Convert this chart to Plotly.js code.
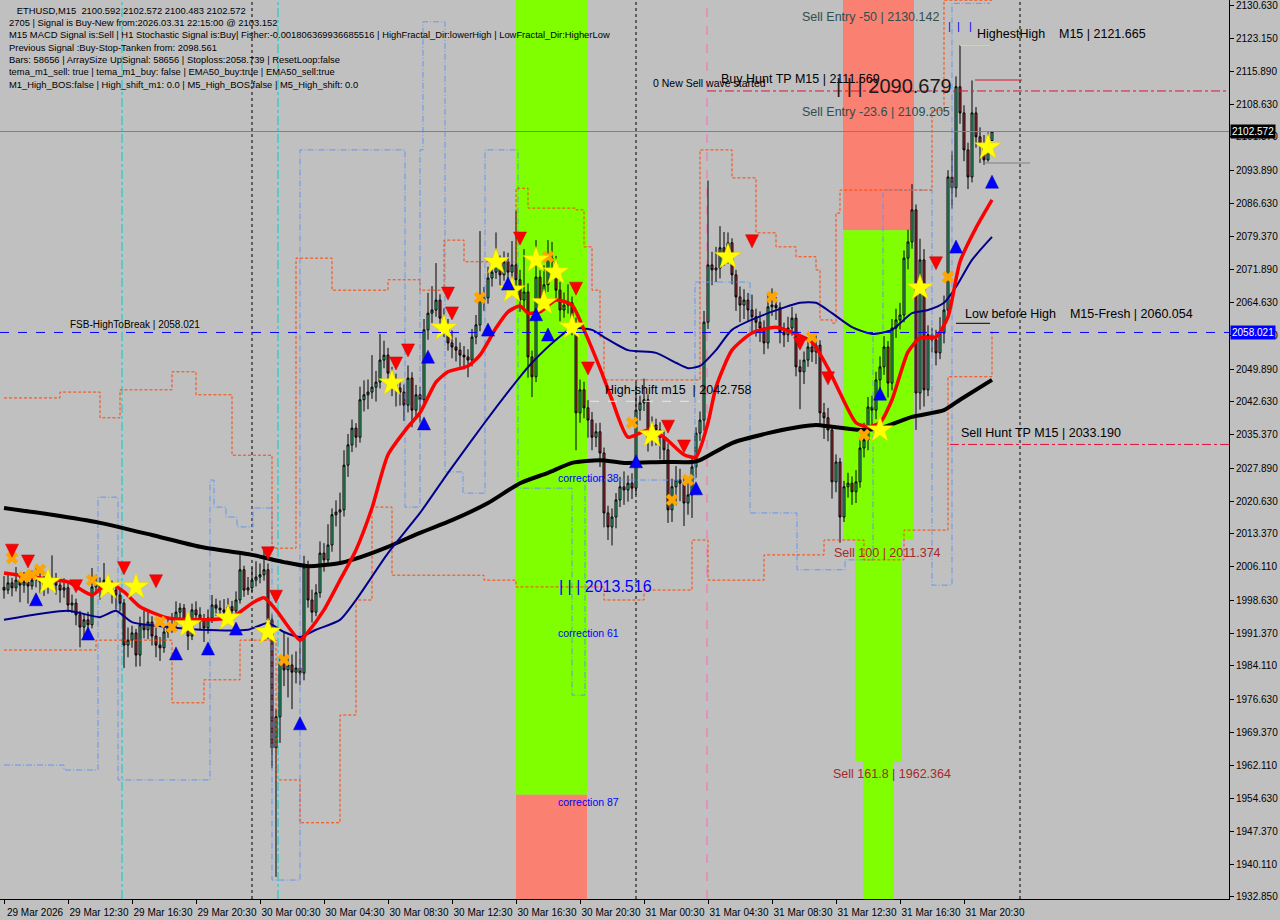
<!DOCTYPE html>
<html><head><meta charset="utf-8">
<script src="https://cdn.plot.ly/plotly-3.0.1.min.js"></script>
<style>html,body{margin:0;padding:0;background:#c0c0c0;}#chart{width:1280px;height:920px;}</style>
</head><body><div id="chart"></div>
<script>
// ---------- DATA ----------
const symbolTitle = "ETHUSD,M15";
const startBar = "2026-03-29 08:30"; // first bar time, M15 bars
const firstOpen = 2001.5;
const closes = [
2000.9,2002.5,2001.4,2003.1,2002.0,2002.7,2001.8,2003.1,2003.6,2002.7,
2002.0,2002.5,2003.6,2002.0,2000.9,2001.4,1997.6,1998.0,1995.4,1992.7,
1994.3,1993.2,2001.6,2002.5,2000.9,2003.1,2002.0,2000.9,1999.8,1998.0,
1988.7,1989.8,1991.4,1986.5,1993.2,1992.1,1993.8,1990.7,1988.7,1988.1,
1991.6,1992.5,1993.2,1996.0,1996.9,1993.2,1990.7,1996.5,1995.4,1994.3,
1992.5,1994.7,1997.6,1996.9,1996.5,1996.0,1997.2,1996.3,1998.7,2005.4,
2000.9,2001.4,2003.1,2003.8,2004.3,2005.4,1994.3,1965.9,1972.8,1984.7,
1983.2,1984.3,1982.7,1983.6,1982.5,2006.0,1998.7,1996.0,2000.3,2009.1,
2007.6,2010.9,2017.6,2018.2,2018.7,2028.6,2033.1,2036.8,2034.8,2043.1,
2044.2,2044.8,2045.9,2047.0,2051.9,2053.0,2049.0,2046.8,2045.7,2044.8,
2041.9,2047.9,2040.8,2044.2,2043.1,2058.6,2062.3,2063.0,2065.2,2061.2,
2059.7,2055.7,2054.8,2054.1,2053.0,2052.6,2051.9,2057.0,2059.7,2065.2,
2065.7,2070.1,2071.4,2073.0,2070.8,2073.7,2071.4,2073.0,2069.7,2065.2,
2067.0,2052.6,2048.2,2070.3,2065.2,2068.6,2074.5,2073.7,2067.4,2063.0,
2064.1,2064.6,2059.7,2040.2,2045.3,2041.3,2038.6,2034.8,2036.0,2031.3,
2018.0,2014.9,2017.1,2020.9,2023.8,2023.1,2024.6,2023.5,2040.8,2042.4,
2043.1,2034.2,2037.5,2036.4,2034.8,2032.0,2018.7,2023.8,2025.3,2024.6,
2020.2,2022.0,2028.2,2035.7,2038.6,2060.3,2073.0,2071.9,2072.3,2076.8,
2075.2,2077.9,2070.8,2065.9,2064.1,2065.2,2063.0,2061.5,2060.3,2059.0,
2055.7,2063.7,2064.1,2063.5,2058.1,2057.5,2059.0,2061.2,2050.4,2049.3,
2051.9,2054.8,2053.7,2055.2,2040.2,2039.1,2036.4,2024.9,2029.3,2017.1,
2023.8,2024.6,2022.7,2024.9,2032.4,2034.2,2041.5,2040.8,2047.5,2050.4,
2054.8,2046.8,2059.0,2060.8,2061.9,2074.5,2078.1,2085.2,2044.6,2074.1,
2045.3,2057.5,2056.4,2053.5,2057.9,2063.0,2092.5,2090.1,2112.5,2106.7,
2098.5,2092.5,2106.7,2101.4,2099.6,2096.3,2100.592,2102.572];
const highs = [
2004.0,2004.8,2003.6,2006.0,2004.5,2004.9,2003.8,2005.2,2006.4,2005.1,
2004.0,2003.9,2008.6,2004.7,2003.3,2003.5,2002.6,1999.9,1999.0,1996.3,
1995.6,1996.1,2005.8,2004.3,2003.7,2006.9,2004.2,2003.0,2002.4,2001.1,
1998.9,1992.6,1993.0,1992.3,1995.0,1996.4,1996.0,1995.1,1992.6,1990.5,
1993.4,1994.5,1995.8,1998.4,1998.0,1997.8,1994.5,1997.9,1998.4,1997.1,
1995.6,1996.6,1999.8,1999.0,1998.6,1998.9,1999.1,1998.5,2000.6,2008.8,
2006.3,2003.8,2005.9,2007.3,2006.8,2010.1,2006.8,1995.5,1974.5,1986.1,
1991.8,1990.4,1986.6,1987.3,1990.6,2008.5,2007.4,2001.0,2002.2,2011.7,
2011.3,2015.5,2019.0,2020.8,2022.5,2031.9,2035.5,2038.7,2037.9,2046.0,
2047.4,2047.6,2053.0,2049.5,2057.7,2056.2,2054.6,2050.4,2048.9,2047.3,
2046.5,2050.7,2049.2,2046.4,2046.0,2061.0,2066.8,2068.3,2073.4,2066.5,
2063.4,2061.0,2058.5,2056.9,2055.8,2055.0,2054.3,2058.8,2061.9,2080.5,
2068.1,2072.6,2074.6,2080.2,2075.1,2076.0,2075.7,2078.3,2085.0,2071.9,
2076.5,2068.9,2054.0,2078.5,2071.8,2072.9,2078.5,2078.1,2075.0,2069.2,
2066.9,2068.7,2066.0,2061.3,2047.6,2047.1,2043.0,2040.4,2037.9,2038.0,
2032.5,2019.6,2019.0,2022.4,2026.0,2027.2,2026.3,2026.8,2046.9,2044.0,
2047.8,2044.3,2039.4,2038.9,2038.1,2036.3,2033.4,2025.6,2028.4,2027.8,
2026.0,2025.4,2030.1,2037.0,2040.5,2062.8,2091.7,2075.9,2077.0,2081.6,
2080.3,2080.2,2078.9,2071.9,2068.2,2067.6,2066.8,2066.4,2063.3,2062.7,
2060.7,2066.5,2067.8,2065.9,2064.7,2060.2,2061.5,2063.7,2062.2,2052.0,
2053.8,2056.6,2057.3,2057.5,2056.3,2042.4,2041.3,2037.5,2031.0,2030.2,
2025.1,2026.9,2026.1,2027.5,2034.4,2038.0,2043.7,2044.0,2049.3,2052.7,
2057.2,2056.1,2061.0,2063.3,2064.6,2076.2,2080.8,2090.9,2086.4,2078.8,
2076.5,2059.6,2059.1,2058.6,2061.4,2066.2,2094.0,2098.2,2114.8,2121.7,
2108.4,2100.1,2113.9,2108.0,2103.5,2101.8,2102.4,2102.572];
const lows = [
1999.0,2000.0,1999.5,2000.6,1998.2,2000.3,1997.9,2001.0,2001.5,2000.2,
1999.6,2000.1,2001.2,1999.9,1998.1,1999.2,1996.0,1995.8,1993.1,1988.2,
1990.5,1991.0,1992.4,2000.0,1998.8,2000.1,2000.3,1997.9,1996.6,1996.2,
1983.6,1986.0,1988.1,1983.9,1984.0,1990.2,1990.0,1988.6,1986.0,1985.2,
1987.0,1990.3,1991.4,1992.2,1994.0,1991.5,1987.6,1989.8,1993.5,1992.0,
1989.4,1991.2,1993.6,1995.2,1994.4,1993.8,1994.9,1994.6,1995.5,1997.9,
1999.4,1999.8,2000.5,2001.7,2002.4,2003.0,1990.0,1961.4,1937.3,1967.0,
1979.6,1977.1,1974.5,1980.2,1979.8,1980.9,1997.0,1993.7,1995.1,1999.2,
2005.0,2006.2,2009.4,2015.0,2007.0,2017.2,2026.0,2031.5,2032.5,2033.6,
2040.5,2041.0,2043.3,2042.7,2045.6,2050.1,2046.1,2043.9,2041.6,2041.8,
2038.4,2040.3,2037.0,2039.1,2038.0,2041.7,2056.4,2060.1,2061.5,2058.5,
2057.0,2054.0,2052.3,2051.6,2050.4,2049.8,2048.1,2050.5,2055.4,2058.3,
2062.8,2064.4,2068.2,2069.9,2068.4,2069.5,2069.6,2069.8,2067.5,2062.6,
2063.1,2048.0,2043.7,2047.0,2063.0,2063.9,2067.0,2070.9,2065.0,2060.5,
2061.3,2062.2,2057.4,2031.9,2038.0,2039.0,2034.7,2031.9,2032.6,2028.2,
2014.8,2012.0,2010.8,2014.6,2019.3,2019.8,2020.5,2021.1,2022.0,2038.5,
2040.6,2031.6,2032.8,2033.0,2029.9,2029.5,2015.8,2016.0,2019.7,2020.6,
2015.1,2017.6,2016.9,2025.8,2034.0,2036.2,2058.8,2068.5,2069.2,2070.0,
2072.8,2073.3,2068.7,2062.8,2060.3,2061.0,2060.6,2058.0,2057.1,2055.9,
2053.2,2054.4,2061.7,2060.8,2055.6,2054.8,2055.9,2057.3,2048.3,2041.0,
2046.6,2050.4,2051.5,2051.0,2037.6,2034.4,2033.9,2021.2,2022.6,2011.4,
2016.0,2021.4,2019.8,2020.2,2023.6,2030.3,2031.9,2036.7,2038.8,2044.8,
2048.6,2043.6,2045.2,2056.8,2058.7,2060.3,2072.0,2076.6,2036.4,2040.9,
2041.6,2043.9,2053.6,2050.7,2052.1,2055.6,2061.8,2085.5,2088.0,2104.3,
2096.0,2089.8,2091.3,2099.0,2095.6,2095.2,2095.9,2100.483];

// moving averages (bar index, value)
const emaRedIdx = [0,9,16,22,26,30,34,41,49,57,62,65,68,74,76,80,84,88,92,96,101,104,108,111,116,119,123,126,129,131,134,138,142,145,149,152,156,161,165,170,173,176,178,182,187,193,198,202,206,209,213,216,219,222,226,229,233,236,239,243,247];
const emaRedVal = [2004.7,2003.6,2002.7,1999.8,2002.5,2000.5,1997.2,1994.7,1994.3,1994.9,1998.0,1999.2,1996.5,1989.8,1991.6,1996.5,2003.1,2009.8,2019.1,2030.9,2037.1,2040.2,2047.0,2049.3,2050.6,2053.0,2059.0,2062.6,2063.9,2062.3,2062.6,2065.2,2064.1,2058.6,2050.1,2043.1,2034.8,2036.4,2034.8,2030.9,2030.4,2038.0,2045.9,2054.1,2057.9,2059.2,2057.7,2055.9,2050.1,2044.6,2038.0,2037.1,2038.0,2043.1,2053.7,2056.8,2057.0,2061.5,2073.7,2081.2,2087.4];
const emaNavyIdx = [0,16,24,28,32,41,49,61,66,70,74,78,84,88,96,104,111,117,122,129,132,138,142,147,150,156,163,168,171,174,178,182,191,199,203,207,212,217,222,227,231,235,238,242,247];
const emaNavyVal = [1994.3,1996.3,1994.9,1996.3,1993.8,1992.7,1992.1,1992.1,1993.6,1991.6,1990.5,1992.1,1994.3,1998.7,2009.1,2018.0,2026.9,2034.2,2040.2,2048.2,2051.3,2056.4,2059.0,2058.6,2057.0,2054.1,2053.5,2051.3,2050.1,2050.6,2054.1,2058.6,2062.3,2064.6,2064.6,2062.3,2059.2,2057.7,2058.6,2062.3,2063.0,2064.6,2068.1,2074.1,2079.2];
const emaBlackIdx = [0,12,24,37,49,62,70,76,84,87,96,104,112,121,129,136,142,149,155,165,172,174,182,191,199,203,207,214,219,227,235,239,247];
const emaBlackVal = [2019.1,2017.6,2015.8,2013.1,2010.5,2008.7,2007.1,2006.2,2006.9,2007.6,2010.5,2013.6,2016.4,2020.2,2024.6,2026.9,2029.1,2029.7,2029.1,2029.3,2029.3,2029.7,2033.5,2035.7,2037.1,2037.5,2037.1,2036.4,2036.8,2039.3,2040.8,2043.1,2047.5];

// envelope / channel step lines (bar index, value)
const orangeUpIdx = [0,14,24,29,42,48,57,67,73,82,96,104,110,115,128,131,143,145,147,149,150,173,174,182,188,193,198,203,204,207,208,209,224,232,235,247];
const orangeUpVal = [2043.5,2044.8,2039.1,2045.3,2049.3,2044.2,2030.8,2010.2,2074.5,2067.4,2069.7,2067.4,2078.5,2073.7,2090.0,2085.6,2085.2,2077.0,2067.4,2057.0,2047.5,2047.5,2098.5,2092.3,2080.1,2077.0,2074.8,2071.9,2060.8,2060.1,2084.5,2089.6,2089.6,2107.3,2131.7,2131.7];
const orangeLoIdx = [0,23,42,50,59,68,74,80,84,88,92,97,120,128,150,160,172,176,190,205,215,225,236,242,247];
const orangeLoVal = [1987.6,1989.8,1975.9,1981.0,1989.8,1958.8,1949.3,1949.3,1973.2,1998.7,2019.3,2004.2,2003.1,2001.6,1998.7,2000.9,2012.0,2003.1,2008.7,2012.0,2007.6,2014.2,2048.2,2048.2,2058.6];
const fractalIdx = [0,15,23.5,28.5,51.5,52.5,55.5,58.25,62.25,67,74,100.25,104,104.75,110.25,114.75,120.25,128.5,142,145.25,172.75,186.5,198.25,210.25,217.25,219.75,232,237,246.5];
const fractalVal = [1962.1,1961.0,2021.5,1958.8,2025.3,2019.3,2017.1,2014.9,2019.1,1936.6,2098.5,2019.3,2098.5,2126.9,2027.1,2022.4,2098.5,2023.5,1977.6,2025.3,2069.2,2018.0,2005.4,2007.6,2058.0,2089.6,2002.0,2131.0,2131.0];

// signal markers (bar index, price)
const sellArrowIdx = [2,6,18,30,38,66,68,98,101,111,112,129,143,146,166,170,187,199,206,233];
const sellArrowVal = [2008.2,2005.8,2000.3,2004.3,2001.4,2007.6,1998.0,2049.7,2052.6,2065.2,2060.8,2077.4,2066.3,2048.6,2035.7,2031.3,2076.8,2054.1,2046.4,2071.9];
const buyArrowIdx = [8,21,43,51,58,74,105,106,121,126,133,136,158,173,219,238,247];
const buyArrowVal = [2000.3,1992.7,1988.3,1989.4,1993.8,1972.8,2039.3,2054.1,2060.1,2070.3,2063.5,2059.0,2030.9,2024.9,2045.9,2078.5,2092.9];
const starIdx = [11,26,33,46,56,66,97,110,123,127,133,135,138,142,162,181,219,229,246];
const starVal = [2002.7,2001.6,2001.6,1993.2,1994.7,1991.6,2046.8,2059.0,2073.7,2067.4,2074.1,2064.6,2071.4,2059.2,2035.3,2074.8,2036.4,2067.9,2099.1];
const crossIdx = [2,5,7,9,22,39,42,70,119,136,157,167,171,192,202,215,236];
const crossVal = [2008.0,2003.8,2004.3,2005.4,2003.1,1993.8,1992.7,1985.4,2065.7,2074.8,2038.0,2020.9,2025.3,2065.9,2057.0,2035.3,2070.3];

// levels
const lastPrice = 2102.572;
const fsbLevel = 2058.021;
const buyHuntTP = 2111.569;
const sellHuntTP = 2033.190;
const highestHigh = 2121.665;
const lowBeforeHigh = 2060.054;
const highShift = 2042.758;
const sellEntry50 = 2130.142;
const sellEntry236 = 2109.205;
const sell100 = 2011.374;
const sell1618 = 1962.364;
const fibTop = 2090.679;
const fibBottom = 2013.516;
const corrLevels = [2025.7, 1991.4, 1953.9];
const corrNames = ["correction 38","correction 61","correction 87"];

// zones: [startIdx, endIdx, priceLow, priceHigh, kind]
const zoneStart = [128, 128, 209.75, 209.75, 212.75, 214.75];
const zoneEnd   = [145.75, 145.75, 227.5, 227.5, 224.5, 222.5];
const zoneLow   = [1955.5, 1930, 2080.7, 2012.0, 1962.8, 1930];
const zoneHigh  = [2135, 1955.5, 2135, 2080.7, 2012.0, 1962.8];
const zoneKind  = ["buy","sell","sell","buy","buy","buy"];

const yTickVals = [2130.630,2123.150,2115.890,2108.630,2101.370,2093.890,2086.630,2079.370,2071.890,2064.630,2057.370,2049.890,2042.630,2035.370,2027.890,2020.630,2013.370,2006.110,1998.630,1991.370,1984.110,1976.630,1969.370,1962.110,1954.630,1947.370,1940.110,1932.850];
const xTickIdx = [0,16,32,48,64,80,96,112,128,144,160,176,192,208,224,240];
const xTickLabels = ["29 Mar 2026","29 Mar 12:30","29 Mar 16:30","29 Mar 20:30","30 Mar 00:30","30 Mar 04:30","30 Mar 08:30","30 Mar 12:30","30 Mar 16:30","30 Mar 20:30","31 Mar 00:30","31 Mar 04:30","31 Mar 08:30","31 Mar 12:30","31 Mar 16:30","31 Mar 20:30"];
const infoLines = [
"   ETHUSD,M15  2100.592 2102.572 2100.483 2102.572",
"2705 | Signal is Buy-New from:2026.03.31 22:15:00 @ 2103.152",
"M15 MACD Signal is:Sell | H1 Stochastic Signal is:Buy| Fisher:-0.001806369936685516 | HighFractal_Dir:lowerHigh | LowFractal_Dir:HigherLow",
"Previous Signal :Buy-Stop-Tanken from: 2098.561",
"Bars: 58656 | ArraySize UpSignal: 58656 | Stoploss:2058.739 | ResetLoop:false",
"tema_m1_sell: true | tema_m1_buy: false | EMA50_buy:true | EMA50_sell:true",
"M1_High_BOS:false | High_shift_m1: 0.0 | M5_High_BOS:false | M5_High_shift: 0.0"];

// ---------- BUILD ----------
const T0 = Date.UTC(2026,2,29,8,30);
function tAt(i){ const d = new Date(T0 + Math.round(i*15*60000)); return d.toISOString().slice(0,19).replace('T',' '); }
const times = closes.map((_,i)=>tAt(i));
const opens = closes.map((c,i)=> i===0 ? firstOpen : closes[i-1]);

const F = "Liberation Sans, Arial, sans-serif";
const traces = [];
function stepLine(idx, val, color, dash){
  return {type:'scatter', mode:'lines', x: idx.map(tAt), y: val, line:{color:color, width:1, dash:dash, shape:'hv'}, hoverinfo:'skip', showlegend:false};
}
traces.push(stepLine(fractalIdx, fractalVal, '#6495ed', '6px,2px,1px,2px'));
traces.push(stepLine(orangeUpIdx, orangeUpVal, '#ff4500', '3px,2px'));
traces.push(stepLine(orangeLoIdx, orangeLoVal, '#ff4500', '3px,2px'));

traces.push({type:'candlestick', x: times, open: opens, high: highs, low: lows, close: closes,
  increasing:{line:{color:'#000000', width:1}, fillcolor:'#3ad98e'},
  decreasing:{line:{color:'#000000', width:1}, fillcolor:'#c2303c'},
  whiskerwidth:0, hoverinfo:'skip', showlegend:false});

function maLine(idx, val, color, w){
  return {type:'scatter', mode:'lines', x: idx.map(tAt), y: val, line:{color:color, width:w, shape:'spline', smoothing:0.6}, hoverinfo:'skip', showlegend:false};
}
traces.push(maLine(emaBlackIdx, emaBlackVal, '#000000', 4));
traces.push(maLine(emaNavyIdx, emaNavyVal, '#00008b', 2));
traces.push(maLine(emaRedIdx, emaRedVal, '#ff0000', 3.5));

function markers(idx, val, symbol, color, size, lineColor, lw){
  return {type:'scatter', mode:'markers', x: idx.map(tAt), y: val,
    marker:{symbol:symbol, color:color, size:size, line:{color:lineColor||color, width:lw||0}},
    hoverinfo:'skip', showlegend:false};
}
traces.push(markers(crossIdx, crossVal, 'x', '#ffa500', 11, '#e08000', 0));
traces.push(markers(starIdx, starVal, 'star', '#ffff00', 20, '#e6c800', 0.5));
traces.push(markers(sellArrowIdx, sellArrowVal, 'arrow-down', '#ff0000', 13, '#c00000', 0.5));
traces.push(markers(buyArrowIdx, buyArrowVal, 'arrow-up', '#0000ff', 13, '#0000a0', 0.5));

// shapes
const shapes = [];
zoneStart.forEach((s,k)=>{
  shapes.push({type:'rect', xref:'x', yref:'y', x0:tAt(s), x1:tAt(zoneEnd[k]), y0:zoneLow[k], y1:zoneHigh[k],
    fillcolor: zoneKind[k]==='buy' ? '#7fff00' : '#fa8072', line:{width:0}, layer:'below'});
});
function vline(i, color, dash, w){ shapes.push({type:'line', xref:'x', yref:'paper', x0:tAt(i), x1:tAt(i), y0:0, y1:1, line:{color:color, width:w||1, dash:dash}, layer:'below'}); }
vline(62,'#000000','dot'); vline(158,'#000000','dot'); vline(254,'#000000','dot');
vline(29.5,'#00ced1','dashdot'); vline(68.5,'#00ced1','dashdot');
vline(175.75,'#ff69b4','dash');
function hline(y, i0, i1, color, dash, w){
  shapes.push({type:'line', xref: i0===null?'paper':'x', yref:'y', x0: i0===null?0:tAt(i0), x1: i0===null?1:tAt(i1), y0:y, y1:y, line:{color:color, width:w||1, dash:dash}});
}
hline(lastPrice, null, null, '#808080', 'solid');
hline(fsbLevel, null, null, '#0000ff', 'dash');
hline(buyHuntTP, 175.75, 306.5, '#dc143c', 'dashdot');
hline(sellHuntTP, 236.5, 306.5, '#dc143c', 'dashdot');
hline(highShift, 146.5, 174, '#e8e8e8', 'dash');
hline(lowBeforeHigh, 238, 246.5, '#000000', 'solid');
hline(highestHigh, 239, 246.5, '#adff2f', 'solid');
hline(2114.0, 242.75, 254.5, '#dc143c', 'solid');
hline(2095.6, 244.75, 256.5, '#7f7f7f', 'solid');

// annotations
const ann = [];
const PW = 1229, PH = 899;
infoLines.forEach((t,k)=>{
  ann.push({xref:'paper', yref:'paper', x:7/PW, y:1-(10+k*12.35)/PH, xanchor:'left', yanchor:'middle', text:t, showarrow:false, font:{family:F, size:9.4, color:'#000'}});
});
function label(i, y, text, color, size, yanchor, yshift){
  ann.push({xref:'x', yref:'y', x:tAt(i), y:y, xanchor:'left', yanchor:yanchor||'middle', yshift:yshift||0, text:text, showarrow:false, font:{family:F, size:size, color:color}});
}
label(199, sellEntry50, "Sell Entry -50 | " + sellEntry50.toFixed(3), '#2f4f4f', 12.5, 'top', -1);
label(199, sellEntry236, "Sell Entry -23.6 | " + sellEntry236.toFixed(3), '#2f4f4f', 12.5, 'top', -1);
label(207, sell100, "Sell 100 | " + sell100.toFixed(3), '#a52a2a', 12.5, 'top', -1);
label(206.75, sell1618, "Sell 161.8 | " + sell1618.toFixed(3), '#a52a2a', 12.5, 'top', -1);
label(242.75, highestHigh, "HighestHigh &nbsp;&nbsp; M15 | " + highestHigh.toFixed(3), '#000', 12.5, 'bottom', 2);
label(239.75, lowBeforeHigh, "Low before High &nbsp;&nbsp; M15-Fresh | " + lowBeforeHigh.toFixed(3), '#000', 12.5, 'bottom', 0);
label(238.75, sellHuntTP, "Sell Hunt TP M15 | " + sellHuntTP.toFixed(3), '#000', 12.5, 'bottom', 2);
label(149.75, highShift, "High-shift m15 &nbsp;| " + highShift.toFixed(3), '#000', 12.5, 'bottom', 2);
label(16, fsbLevel, "FSB-HighToBreak | " + fsbLevel.toFixed(3), '#000', 10, 'bottom', 0);
label(161.75, 2113.3, "0 New Sell wave started", '#000', 10.5, 'middle', 0);
label(178.75, buyHuntTP, "Buy Hunt TP M15 | " + buyHuntTP.toFixed(3), '#000', 12.5, 'bottom', 3);
label(207.5, 2112.7, "| | | " + fibTop.toFixed(3), '#1a1a1a', 20, 'middle', 0);
label(138.25, 2001.8, "| | | " + fibBottom.toFixed(3), '#0000ff', 16, 'middle', 0);
corrLevels.forEach((v,k)=> label(138, v, corrNames[k], '#0000ff', 10.5, 'middle', 0));
label(235.5, 2126.0, "|&nbsp;&nbsp;|&nbsp;&nbsp;&nbsp;|", '#0000ff', 11, 'middle', 0);
function tag(y, bg){ ann.push({xref:'paper', yref:'y', x:1, y:y, xanchor:'left', yanchor:'middle', xshift:1, text:y.toFixed(3), showarrow:false, bgcolor:bg, borderpad:1, font:{family:F, size:10, color:'#fff'}}); }
tag(lastPrice, '#000000');
tag(fsbLevel, '#0000ff');

const layout = {
  width:1280, height:920,
  margin:{l:0, r:51, t:0, b:21},
  paper_bgcolor:'#c0c0c0', plot_bgcolor:'#c0c0c0',
  showlegend:false,
  xaxis:{type:'date', range:[tAt(-1), tAt(306.25)], rangeslider:{visible:false}, showgrid:false, zeroline:false,
    tickvals: xTickIdx.map(tAt), ticktext: xTickLabels, ticks:'outside', ticklen:4, tickcolor:'#000',
    showline:true, linecolor:'#000', linewidth:1, mirror:true, ticklabelshift:31, ticklabeloverflow:'allow',
    tickfont:{family:F, size:10, color:'#000'}},
  yaxis:{side:'right', range:[1932.40, 2131.74], showgrid:false, zeroline:false,
    tickvals: yTickVals, ticktext: yTickVals.map(v=>v.toFixed(3)), ticks:'outside', ticklen:4, tickcolor:'#000',
    showline:true, linecolor:'#000', linewidth:1, mirror:true, ticklabeloverflow:'allow',
    tickfont:{family:F, size:10, color:'#000'}},
  shapes: shapes,
  annotations: ann,
  hovermode:false
};
Plotly.newPlot('chart', traces, layout, {displayModeBar:false, staticPlot:true});
</script>
</body></html>
